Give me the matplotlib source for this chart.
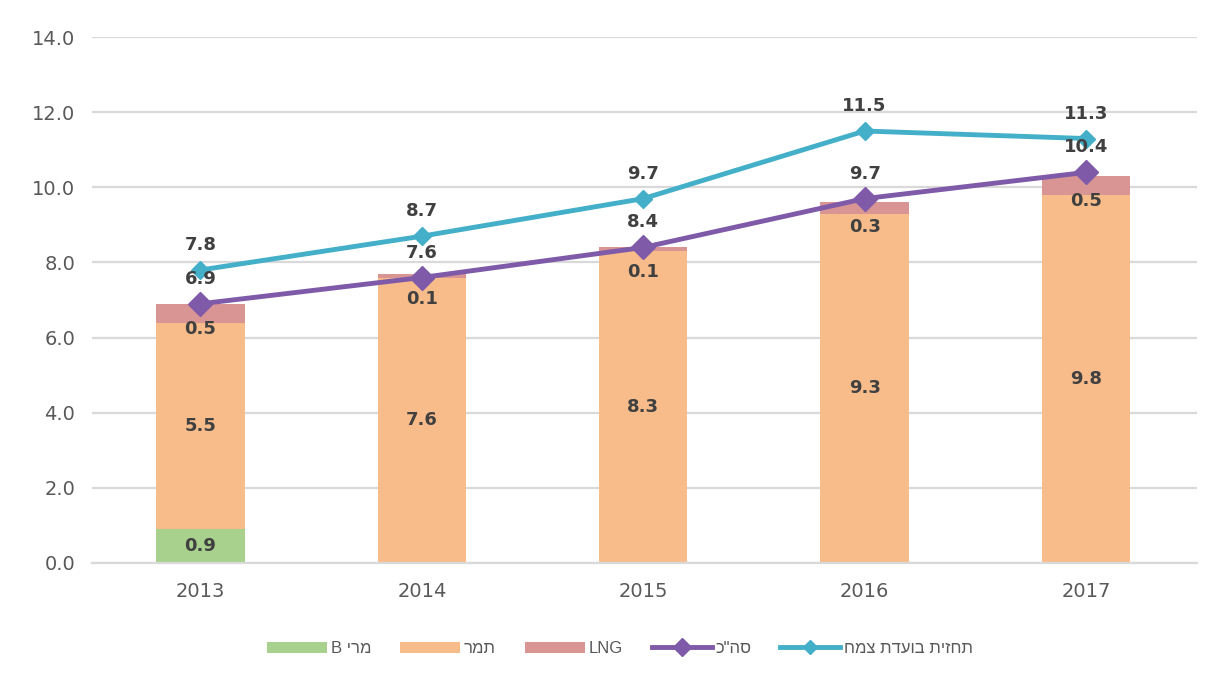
import matplotlib
matplotlib.use("Agg")
import matplotlib.pyplot as plt
import numpy as np

years = ["2013", "2014", "2015", "2016", "2017"]
mari_b = [0.9, 0, 0, 0, 0]
tamar = [5.5, 7.6, 8.3, 9.3, 9.8]
lng = [0.5, 0.1, 0.1, 0.3, 0.5]
total = [6.9, 7.6, 8.4, 9.7, 10.4]
forecast = [7.8, 8.7, 9.7, 11.5, 11.3]
yticks = [0, 2, 4, 6, 8, 10, 12, 14]

# Hebrew labels (logical order); reversed for display since matplotlib has no bidi
lbl_mari = "מרי"
lbl_tamar = "תמר"
lbl_total = 'סה"כ'
lbl_forecast = "תחזית בועדת צמח"

def vis(s):
    return s[::-1]

c_green = "#A9D18E"
c_orange = "#F8BC8A"
c_lng = "#D99594"
c_purple = "#7E5AA8"
c_blue = "#43AFC8"
c_text = "#404040"

fig = plt.figure(figsize=(12.18, 6.75), dpi=100)
ax = fig.add_axes([0.0755, 0.166, 0.907, 0.779])

x = np.arange(len(years))
w = 0.4
b1 = ax.bar(x, mari_b, w, color=c_green, label="B " + vis(lbl_mari), zorder=2)
b2 = ax.bar(x, tamar, w, bottom=mari_b, color=c_orange, label=vis(lbl_tamar), zorder=2)
bottom3 = np.array(mari_b) + np.array(tamar)
b3 = ax.bar(x, lng, w, bottom=bottom3, color=c_lng, label="LNG", zorder=2)

l1, = ax.plot(x, total, color=c_purple, lw=3.5, marker="D", ms=12, zorder=4,
              label=vis(lbl_total))
l2, = ax.plot(x, forecast, color=c_blue, lw=3.5, marker="D", ms=9, zorder=3,
              label=vis(lbl_forecast))

lab = dict(ha="center", va="center", fontsize=13, fontweight="bold",
           color=c_text, family="DejaVu Sans", zorder=6)

for i in range(len(years)):
    if mari_b[i] > 0:
        ax.text(x[i], mari_b[i] / 2, f"{mari_b[i]:.1f}", **lab)
    ax.text(x[i], mari_b[i] + tamar[i] / 2, f"{tamar[i]:.1f}", **lab)
    top = bottom3[i] + lng[i]
    ax.annotate(f"{lng[i]:.1f}", (x[i], top), xytext=(0, -18),
                textcoords="offset points", **lab)
    ax.annotate(f"{total[i]:.1f}", (x[i], total[i]), xytext=(0, 18),
                textcoords="offset points", **lab)
    ax.annotate(f"{forecast[i]:.1f}", (x[i], forecast[i]), xytext=(0, 18),
                textcoords="offset points", **lab)

ax.set_xlim(-0.49, 4.5)
ax.set_ylim(0, 14)
ax.set_yticks(yticks)
ax.set_yticklabels([f"{v:.1f}" for v in yticks])
ax.set_xticks(x)
ax.set_xticklabels(years)
ax.grid(axis="y", color="#D9D9D9", lw=1.6, zorder=0)
ax.set_axisbelow(True)
for s in ax.spines.values():
    s.set_visible(False)
ax.spines["bottom"].set_visible(True)
ax.spines["bottom"].set_color("#D9D9D9")
ax.spines["bottom"].set_linewidth(1.6)
ax.tick_params(axis="both", length=0, labelsize=14, labelcolor="#595959")
ax.tick_params(axis="x", pad=14)
ax.tick_params(axis="y", pad=12)
for t in ax.get_xticklabels() + ax.get_yticklabels():
    t.set_family("DejaVu Sans")

handles = [b1, b2, b3, l1, l2]
labels = [h.get_label() for h in handles]
leg = fig.legend(handles, labels, loc="center", bbox_to_anchor=(0.509, 0.039), ncol=5,
                 frameon=False, prop={"family": ["Liberation Sans", "DejaVu Sans"], "size": 12},
                 handlelength=3.6, handleheight=0.7, handletextpad=0.2, columnspacing=1.75,
                 markerscale=0.75)
for t in leg.get_texts():
    t.set_color("#595959")

fig.savefig("out.png", dpi=100)
